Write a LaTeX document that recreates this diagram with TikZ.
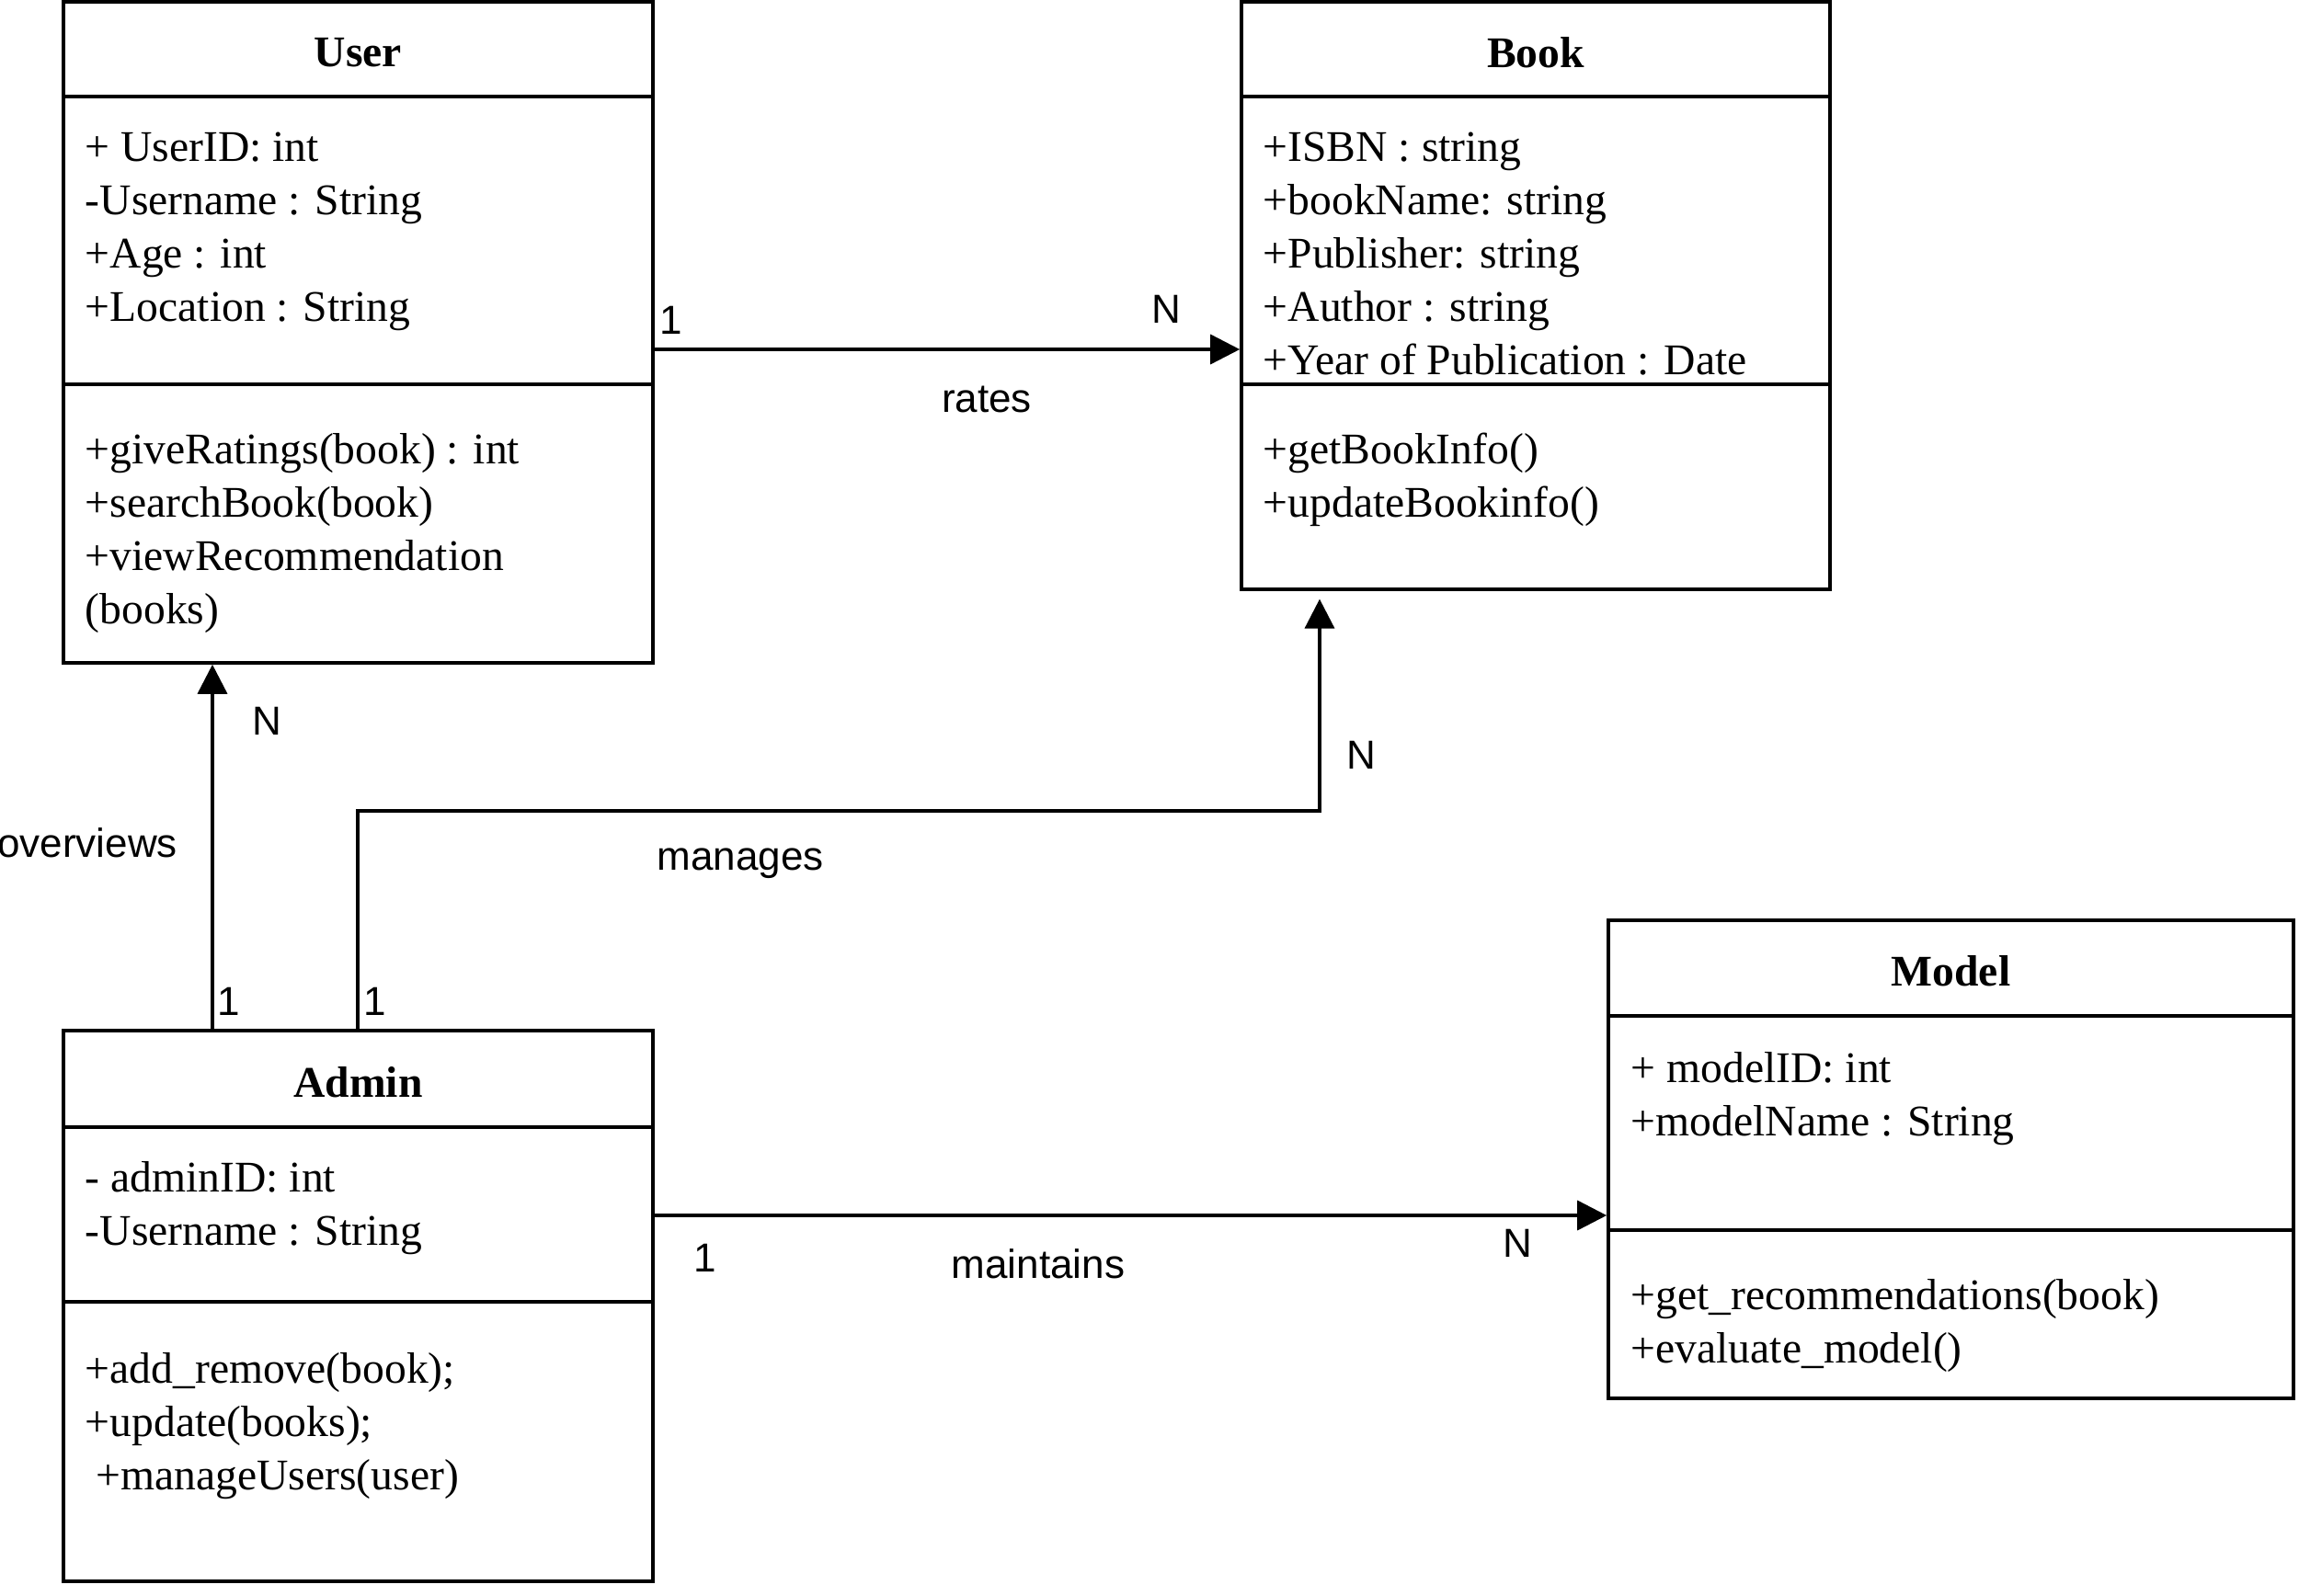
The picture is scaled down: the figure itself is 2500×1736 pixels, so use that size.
\documentclass[tikz,border=0pt]{standalone}
\usepackage{fontspec}
\setmainfont{Liberation Serif}
\setsansfont{Liberation Sans}
\usetikzlibrary{arrows.meta,fit}

\tikzset{
  classbox/.style={draw, line width=0.9pt, inner sep=0pt},
  classname/.style={font=\bfseries\fontsize{11.9}{14.5}\selectfont, inner sep=0pt},
  member/.style={anchor=base west, inner sep=0pt, font=\fontsize{11.9}{14.5}\selectfont},
  assoc/.style={line width=0.9pt, -{Triangle[length=8pt,width=8pt]}},
  rolelabel/.style={font=\sffamily\fontsize{11}{13}\selectfont, inner sep=0pt},
}

\begin{document}
\begin{tikzpicture}[x=0.25pt, y=-0.25pt]
\useasboundingbox (0,0) rectangle (2500,1736);

% classes
\node[classbox, fit={(69,2) (710,721)}] (user) {};
\node[classbox, fit={(1350,2) (1990,641)}] (book) {};
\node[classbox, fit={(69,1121) (710,1720)}] (admin) {};
\node[classbox, fit={(1749,1001) (2494,1521)}] (model) {};

% compartments
\foreach \xa/\xb/\ya/\yb in {69/710/105/418, 1350/1990/105/418, 69/710/1226/1416, 1749/2494/1105/1338}
  \draw[line width=0.9pt] (\xa,\ya) -- (\xb,\ya) (\xa,\yb) -- (\xb,\yb);

\node[classname] (user-title) at (389.5,57) {User};
\node[classname] (book-title) at (1670,57) {Book};
\node[classname] (admin-title) at (389.5,1177) {Admin};
\node[classname] (model-title) at (2121.5,1056) {Model};

% members
\foreach \t [count=\i from 0] in {+ UserID: int, -Username : String, +Age : int, +Location : String}
  \node[member] (user-att\i) at (92,175+58*\i) {\t};
\foreach \t [count=\i from 0] in {+giveRatings(book) : int, +searchBook(book), +viewRecommendation, (books)}
  \node[member] (user-op\i) at (92,504+58*\i) {\t};

\foreach \t [count=\i from 0] in {+ISBN : string, +bookName: string, +Publisher: string, +Author : string, +Year of Publication : Date}
  \node[member] (book-att\i) at (1373,175+58*\i) {\t};
\foreach \t [count=\i from 0] in {+getBookInfo(), +updateBookinfo()}
  \node[member] (book-op\i) at (1373,504+58*\i) {\t};

\foreach \t [count=\i from 0] in {- adminID: int, -Username : String}
  \node[member] (admin-att\i) at (92,1296+58*\i) {\t};
\foreach \t [count=\i from 0] in {+add\_remove(book);, +update(books);, \ +manageUsers(user)}
  \node[member] (admin-op\i) at (92,1504+58*\i) {\t};

\foreach \t [count=\i from 0] in {+ modelID: int, +modelName : String}
  \node[member] (model-att\i) at (1773,1177+58*\i) {\t};
\foreach \t [count=\i from 0] in {+get\_recommendations(book), +evaluate\_model()}
  \node[member] (model-op\i) at (1773,1424+58*\i) {\t};

% associations
\coordinate (ratesrow) at (0,380);
\coordinate (ovcol) at (231,0);
\coordinate (mgcol) at (389,0);
\coordinate (mgrow) at (0,882);
\coordinate (bookcol) at (1435,0);
\coordinate (mtrow) at (0,1322);

\draw[assoc] (user.east |- ratesrow) -- (book.west |- ratesrow);
\draw[assoc] (admin.north -| ovcol) -- (user.south -| ovcol);
\draw[assoc, shorten >=2.2pt] (admin.north -| mgcol) |- (mgrow -| bookcol) -- (book.south -| bookcol);
\draw[assoc] (admin.east |- mtrow) -- (model.west |- mtrow);

\node[rolelabel] (rates-one) at (730,348) {1};
\node[rolelabel] (rates-n) at (1268,336) {N};
\node[rolelabel] (rates-lbl) at (1073,434) {rates};

\node[rolelabel] (ov-n) at (290,784) {N};
\node[rolelabel] (ov-one) at (249,1089) {1};
\node[rolelabel] (ov-lbl) at (95,917) {overviews};

\node[rolelabel] (mg-one) at (408,1089) {1};
\node[rolelabel] (mg-n) at (1480,821) {N};
\node[rolelabel] (mg-lbl) at (805,939) {manages};

\node[rolelabel] (mt-one) at (767,1368) {1};
\node[rolelabel] (mt-n) at (1650,1352) {N};
\node[rolelabel] (mt-lbl) at (1129,1375) {maintains};
\end{tikzpicture}
\end{document}
